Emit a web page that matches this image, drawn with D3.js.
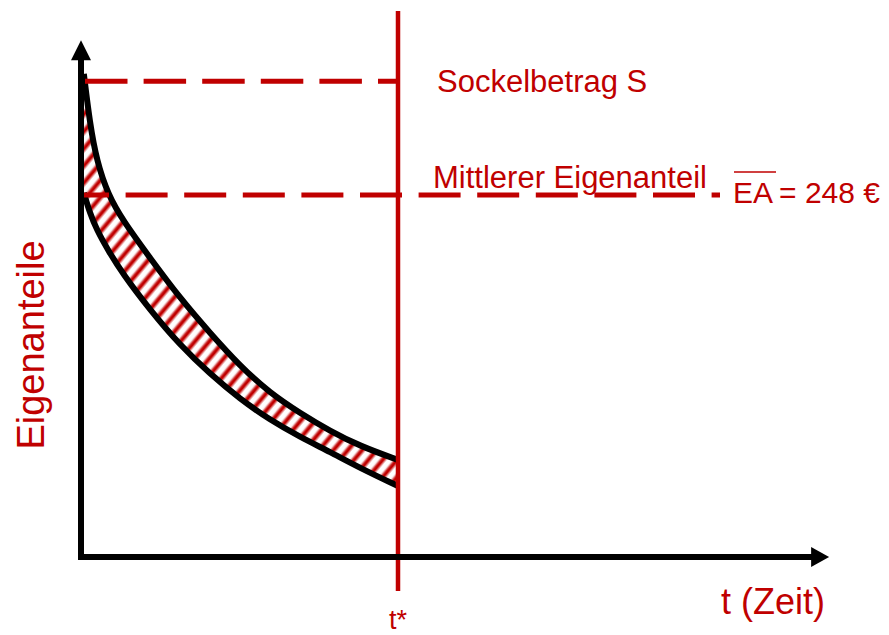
<!DOCTYPE html>
<html>
<head>
<meta charset="utf-8">
<script src="https://cdn.jsdelivr.net/npm/d3@7"></script>
<style>
	body { margin: 0; background: #fff; }
	text { font-family: "Liberation Sans", Arial, sans-serif; fill: #c00000; }
</style>
</head>
<body>
<div id="chart"></div>
<script>
// time points (t* = 10) and the two curves of Eigenanteile
var t_values = [0.09, 0.28, 0.50, 0.85, 1.32, 2.18, 3.12, 4.07, 5.02, 5.96, 6.91, 7.86, 8.80, 10];
var upper_values = [331, 297, 271, 248.4, 230.5, 204.8, 177.4, 153.5, 130.8, 112.4, 98.6, 86.3, 76.0, 66.5];
var lower_values = [249.4, 235.6, 224.0, 210.3, 193.9, 169.2, 145.2, 125.4, 108.2, 93.9, 82.2, 71.9, 61.0, 48.6];

var t_star = 10, t_max = 23.6;
var sockel = 326, ea_mean = 248, y_max = 354;

var labels = {
	sockel: "Sockelbetrag S",
	mittel: "Mittlerer Eigenanteil",
	ea: "EA",
	ea_value: "= 248 €",
	x_title: "t (Zeit)",
	t_star: "t*",
	y_title: "Eigenanteile"
};

var width = 889, height = 635,
	red = "#c00000";

var svg = d3.select("#chart")
	.append("svg")
	.attr("width", width)
	.attr("height", height);

var x = d3.scaleLinear()
	.domain([0, t_star])
	.range([81, 398]);

var y = d3.scaleLinear()
	.domain([0, ea_mean])
	.range([557, 195]);

var data = t_values.map(function(t, i) {
	return { t: t, hi: upper_values[i], lo: lower_values[i] };
});

// hatch pattern for the band
var defs = svg.append("defs");
var grad = defs.append("linearGradient")
	.attr("id", "stripe")
	.attr("x1", 0).attr("y1", 0).attr("x2", 0).attr("y2", 1);
grad.append("stop").attr("offset", "0").attr("stop-color", "#fff");
grad.append("stop").attr("offset", "0.2").attr("stop-color", "#fff");
grad.append("stop").attr("offset", "0.45").attr("stop-color", red);
grad.append("stop").attr("offset", "0.6").attr("stop-color", red);
grad.append("stop").attr("offset", "0.85").attr("stop-color", "#fff");
grad.append("stop").attr("offset", "1").attr("stop-color", "#fff");

var pat = defs.append("pattern")
	.attr("id", "hatch")
	.attr("patternUnits", "userSpaceOnUse")
	.attr("width", 11)
	.attr("height", 11)
	.attr("patternTransform", "rotate(-50)");
pat.append("rect")
	.attr("width", 11)
	.attr("height", 11)
	.style("fill", "url(#stripe)");

var curve = d3.curveBasis;

var area = d3.area()
	.x(function(d) { return x(d.t); })
	.y0(function(d) { return y(d.lo); })
	.y1(function(d) { return y(d.hi); })
	.curve(curve);

svg.append("path")
	.datum(data)
	.attr("d", area)
	.style("fill", "url(#hatch)");

var line_hi = d3.line()
	.x(function(d) { return x(d.t); })
	.y(function(d) { return y(d.hi); })
	.curve(curve);

var line_lo = d3.line()
	.x(function(d) { return x(d.t); })
	.y(function(d) { return y(d.lo); })
	.curve(curve);

svg.append("path").datum(data).attr("d", line_hi)
	.style("fill", "none").style("stroke", "#000").style("stroke-width", 6);
svg.append("path").datum(data).attr("d", line_lo)
	.style("fill", "none").style("stroke", "#000").style("stroke-width", 6);

// dashed reference lines
svg.append("line")
	.attr("x1", x(0) + 4).attr("x2", x(t_star))
	.attr("y1", y(sockel)).attr("y2", y(sockel))
	.style("stroke", red).style("stroke-width", 5)
	.style("stroke-dasharray", "42.5,16.1");

svg.append("line")
	.attr("x1", x(0) + 3).attr("x2", 720)
	.attr("y1", y(ea_mean)).attr("y2", y(ea_mean))
	.style("stroke", red).style("stroke-width", 5)
	.style("stroke-dasharray", "42,16.6")
	.style("stroke-dashoffset", 17);

// t* line
svg.append("line")
	.attr("x1", x(t_star)).attr("x2", x(t_star))
	.attr("y1", 11).attr("y2", 591)
	.style("stroke", red).style("stroke-width", 4.5);

// axes with arrows
svg.append("line")
	.attr("x1", x(0)).attr("x2", x(0))
	.attr("y1", y(0) + 3).attr("y2", y(y_max) + 18)
	.style("stroke", "#000").style("stroke-width", 6);
svg.append("path")
	.attr("d", "M" + (x(0) - 10) + "," + (y(y_max) + 20) + "L" + x(0) + "," + y(y_max) +
		"L" + (x(0) + 10) + "," + (y(y_max) + 20) + "Z")
	.style("fill", "#000");

svg.append("line")
	.attr("x1", x(0) - 3).attr("x2", x(t_max) - 16)
	.attr("y1", y(0)).attr("y2", y(0))
	.style("stroke", "#000").style("stroke-width", 6);
svg.append("path")
	.attr("d", "M" + (x(t_max) - 18) + "," + (y(0) - 10) + "L" + x(t_max) + "," + y(0) +
		"L" + (x(t_max) - 18) + "," + (y(0) + 10) + "Z")
	.style("fill", "#000");

// texts
svg.append("text")
	.attr("x", 437).attr("y", 92)
	.style("font-size", "31px")
	.text(labels.sockel);

svg.append("text")
	.attr("x", 433).attr("y", 188)
	.style("font-size", "31px")
	.text(labels.mittel);

var ea = svg.append("text")
	.attr("x", 733).attr("y", 203)
	.style("font-size", "30px")
	.text(labels.ea);
var bb = ea.node().getBBox();

svg.append("line")
	.attr("x1", bb.x + 1).attr("x2", bb.x + bb.width + 3)
	.attr("y1", 172).attr("y2", 172)
	.style("stroke", red).style("stroke-width", 1.5);

svg.append("text")
	.attr("x", bb.x + bb.width + 6).attr("y", 203)
	.style("font-size", "30px")
	.text(labels.ea_value);

svg.append("text")
	.attr("x", 721).attr("y", 614)
	.style("font-size", "36px")
	.text(labels.x_title);

svg.append("text")
	.attr("x", x(t_star)).attr("y", 629)
	.attr("text-anchor", "middle")
	.style("font-size", "27px")
	.text(labels.t_star);

svg.append("text")
	.attr("transform", "translate(44,345) rotate(-90)")
	.attr("text-anchor", "middle")
	.style("font-size", "38px")
	.text(labels.y_title);
</script>
</body>
</html>
